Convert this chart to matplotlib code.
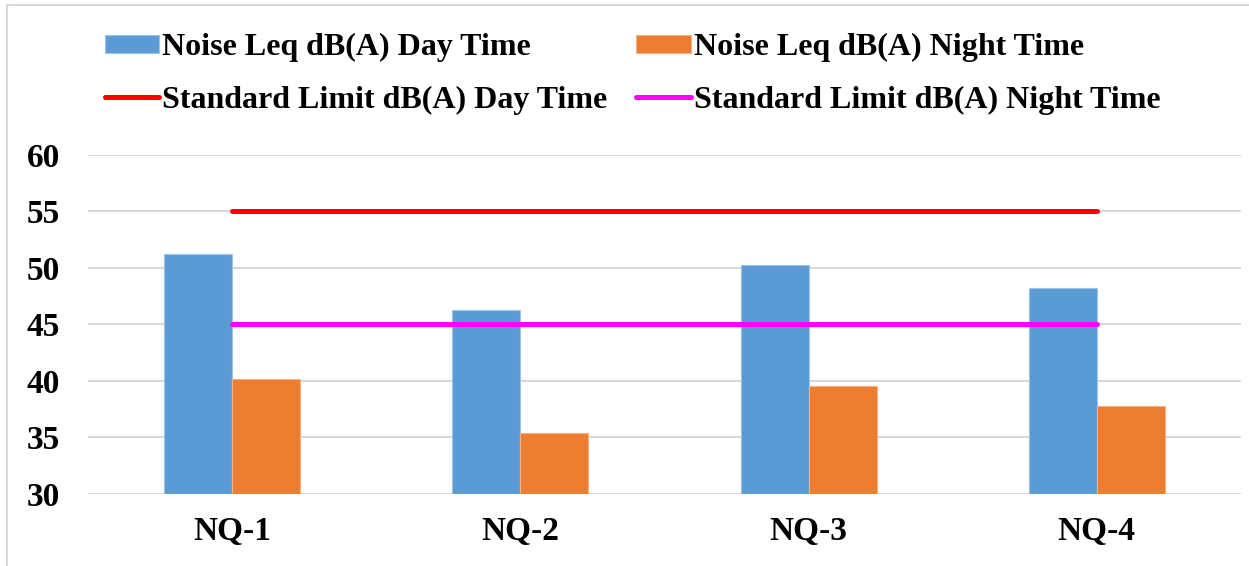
import matplotlib
matplotlib.use("Agg")
import matplotlib.pyplot as plt
import numpy as np
from matplotlib.patches import Rectangle

categories = ["NQ-1", "NQ-2", "NQ-3", "NQ-4"]
day_leq = [51.2, 46.3, 50.3, 48.2]
night_leq = [40.2, 35.4, 39.6, 37.8]
day_limit = [55, 55, 55, 55]
night_limit = [45, 45, 45, 45]
yticks = [30, 35, 40, 45, 50, 55, 60]

plt.rcParams['font.family'] = ['Liberation Serif', 'DejaVu Serif']
plt.rcParams['font.weight'] = 'bold'

fig = plt.figure(figsize=(12.49, 5.66), dpi=100)
ax = fig.add_axes([0.0705, 0.1272, 0.923, 0.599])

x = np.arange(len(categories))
w = 0.236
b1 = ax.bar(x - w/2, [v - 30 for v in day_leq], w, bottom=30, color='#5b9bd5',
            edgecolor='#9dc3e6', linewidth=0.8, label='Noise Leq dB(A) Day Time', zorder=2)
b2 = ax.bar(x + w/2, [v - 30 for v in night_leq], w, bottom=30, color='#ed7d31',
            edgecolor='#f4b183', linewidth=0.8, label='Noise Leq dB(A) Night Time', zorder=2)
l1, = ax.plot(x, day_limit, color='#ff0000', lw=3.6, solid_capstyle='round',
              label='Standard Limit dB(A) Day Time', zorder=3)
l2, = ax.plot(x, night_limit, color='#ff00ff', lw=3.6, solid_capstyle='round',
              label='Standard Limit dB(A) Night Time', zorder=3)

ax.set_xlim(-0.5, len(categories) - 0.5)
ax.set_ylim(30, 60)
ax.set_yticks(yticks)
ax.set_xticks(x)
ax.set_xticklabels(categories)
ax.tick_params(axis='both', length=0, labelsize=24)
ax.tick_params(axis='y', pad=20)
ax.tick_params(axis='x', pad=16)
for lab in ax.get_xticklabels() + ax.get_yticklabels():
    lab.set_fontweight('bold')
ax.grid(axis='y', color='#d9d9d9', lw=1.5, zorder=0)
for s in ax.spines.values():
    s.set_visible(False)

fig.legend(handles=[b1, l1, b2, l2], ncol=2, loc='upper left',
           bbox_to_anchor=(0.084, 0.941), frameon=False,
           prop={'family': 'Liberation Serif', 'weight': 'bold', 'size': 23},
           handlelength=1.7, handleheight=0.5, handletextpad=0.1, columnspacing=0.9,
           labelspacing=0.72, borderpad=0, borderaxespad=0)

fig.patches.append(Rectangle((0.0058, -0.1), 1.2, 1.092, transform=fig.transFigure,
                             fill=False, edgecolor='#d9d9d9', lw=1.5))

fig.savefig('out.png', dpi=100)
